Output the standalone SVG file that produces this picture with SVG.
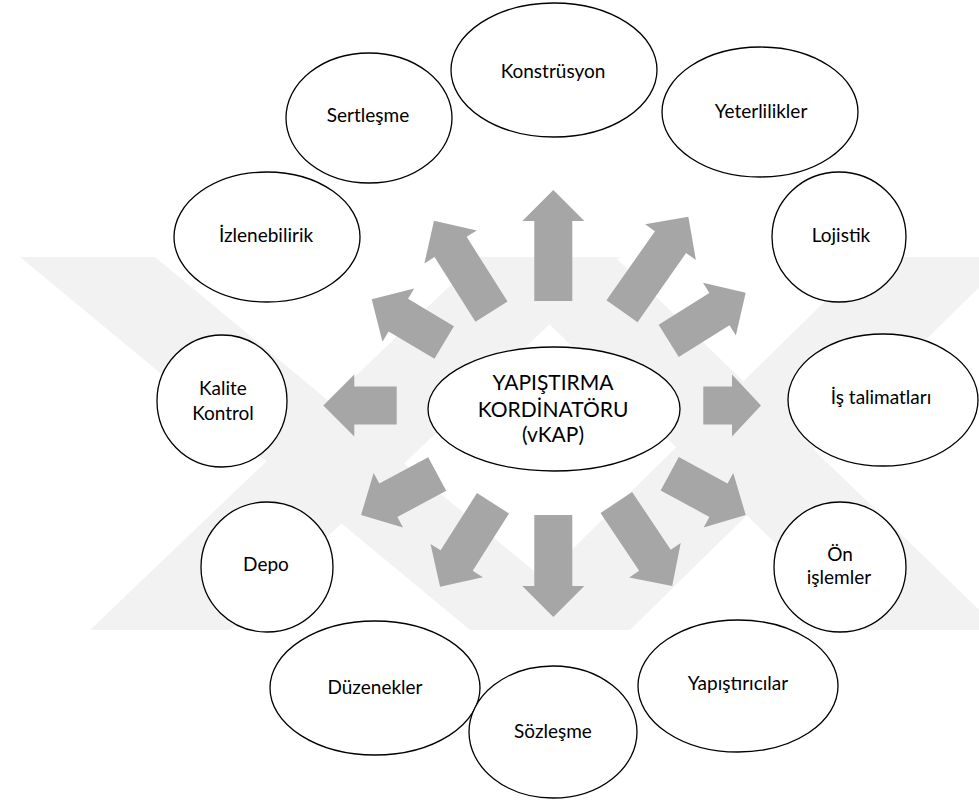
<svg xmlns="http://www.w3.org/2000/svg" width="979" height="800" viewBox="0 0 979 800">
<style>
.wm{fill:#f2f2f2}
.arr{fill:#a6a6a6}
.nd{fill:#ffffff;stroke:#000000;stroke-width:1.3}
.t{font-family:Lato,"Liberation Sans",sans-serif;font-size:19px;fill:#000000;text-anchor:middle}
.tc{font-family:Lato,"Liberation Sans",sans-serif;font-size:21px;fill:#000000;text-anchor:middle}
</style>
<rect width="979" height="800" fill="#ffffff"/>
<g id="watermark">
<polygon class="wm" points="20,257 155,257 605,630 470,630"/>
<polygon class="wm" points="90,630 230,630 620,257 480,257"/>
<polygon class="wm" points="480,257 615,257 1000,630 865,630"/>
<polygon class="wm" points="490,630 630,630 1010,257 870,257"/>
</g>
<g id="connectors">
<polygon class="arr" transform="translate(553.3,301) rotate(-90)" points="0,-19 80,-19 80,-31 111,0 80,31 80,19 0,19"/>
<polygon class="arr" transform="translate(491.5,311.7) rotate(-122.3)" points="0,-19 76.6,-19 76.6,-31 107.6,0 76.6,31 76.6,19 0,19"/>
<polygon class="arr" transform="translate(444.2,342.5) rotate(-149.2)" points="0,-19 53.4,-19 53.4,-31 84.4,0 53.4,31 53.4,19 0,19"/>
<polygon class="arr" transform="translate(396.7,405.5) rotate(180)" points="0,-19 42.4,-19 42.4,-31 73.4,0 42.4,31 42.4,19 0,19"/>
<polygon class="arr" transform="translate(703.3,405.5) rotate(0)" points="0,-19 28.7,-19 28.7,-31 57.7,0 28.7,31 28.7,19 0,19"/>
<polygon class="arr" transform="translate(622,311.2) rotate(-54.9)" points="0,-19 84.4,-19 84.4,-31 115.4,0 84.4,31 84.4,19 0,19"/>
<polygon class="arr" transform="translate(668.7,340.8) rotate(-32)" points="0,-19 59.8,-19 59.8,-31 90.8,0 59.8,31 59.8,19 0,19"/>
<polygon class="arr" transform="translate(437.2,474) rotate(151.7)" points="0,-19 55.5,-19 55.5,-31 86.5,0 55.5,31 55.5,19 0,19"/>
<polygon class="arr" transform="translate(493,503.3) rotate(122.4)" points="0,-19 67.8,-19 67.8,-31 98.8,0 67.8,31 67.8,19 0,19"/>
<polygon class="arr" transform="translate(553.3,515) rotate(90)" points="0,-19 71,-19 71,-31 102,0 71,31 71,19 0,19"/>
<polygon class="arr" transform="translate(616.3,502.5) rotate(56.2)" points="0,-19 69.5,-19 69.5,-31 100.5,0 69.5,31 69.5,19 0,19"/>
<polygon class="arr" transform="translate(669.7,473.7) rotate(28.5)" points="0,-19 55.5,-19 55.5,-31 86.5,0 55.5,31 55.5,19 0,19"/>
</g>
<g id="center">
<ellipse class="nd" cx="554" cy="409" rx="126" ry="62"/>
<text class="tc" x="553" y="390">YAPIŞTIRMA</text>
<text class="tc" x="553" y="417">KORDİNATÖRU</text>
<text class="tc" x="553" y="442">(vKAP)</text>
</g>
<g id="konstrusyon">
<ellipse class="nd" cx="554" cy="70" rx="103" ry="67"/>
<text class="t" x="553" y="78">Konstrüsyon</text>
</g>
<g id="sertlesme">
<ellipse class="nd" cx="369" cy="118" rx="83" ry="65"/>
<text class="t" x="368" y="122">Sertleşme</text>
</g>
<g id="yeterlilikler">
<ellipse class="nd" cx="760" cy="112" rx="98" ry="65"/>
<text class="t" x="761" y="118">Yeterlilikler</text>
</g>
<g id="izlenebilirik">
<ellipse class="nd" cx="267" cy="237" rx="93" ry="65"/>
<text class="t" x="266" y="242">İzlenebilirik</text>
</g>
<g id="lojistik">
<ellipse class="nd" cx="839" cy="237" rx="67" ry="65"/>
<text class="t" x="841" y="242">Lojistik</text>
</g>
<g id="kalite">
<ellipse class="nd" cx="222" cy="401" rx="65" ry="66"/>
<text class="t" x="223" y="395">Kalite</text>
<text class="t" x="223" y="420">Kontrol</text>
</g>
<g id="is-talimatlari">
<ellipse class="nd" cx="883" cy="400" rx="95" ry="66"/>
<text class="t" x="881" y="404">İş talimatları</text>
</g>
<g id="depo">
<ellipse class="nd" cx="267" cy="567" rx="66" ry="65"/>
<text class="t" x="266" y="571">Depo</text>
</g>
<g id="on-islemler">
<ellipse class="nd" cx="840" cy="567" rx="66" ry="65"/>
<text class="t" x="840" y="561">Ön</text>
<text class="t" x="839" y="584">işlemler</text>
</g>
<g id="duzenekler">
<ellipse class="nd" cx="375" cy="688" rx="105" ry="67"/>
<text class="t" x="375" y="694">Düzenekler</text>
</g>
<g id="yapistiricilar">
<ellipse class="nd" cx="738" cy="686" rx="100" ry="66"/>
<text class="t" x="738" y="690">Yapıştırıcılar</text>
</g>
<g id="sozlesme">
<ellipse class="nd" cx="553" cy="732" rx="84" ry="66"/>
<text class="t" x="553" y="738">Sözleşme</text>
</g>
</svg>
